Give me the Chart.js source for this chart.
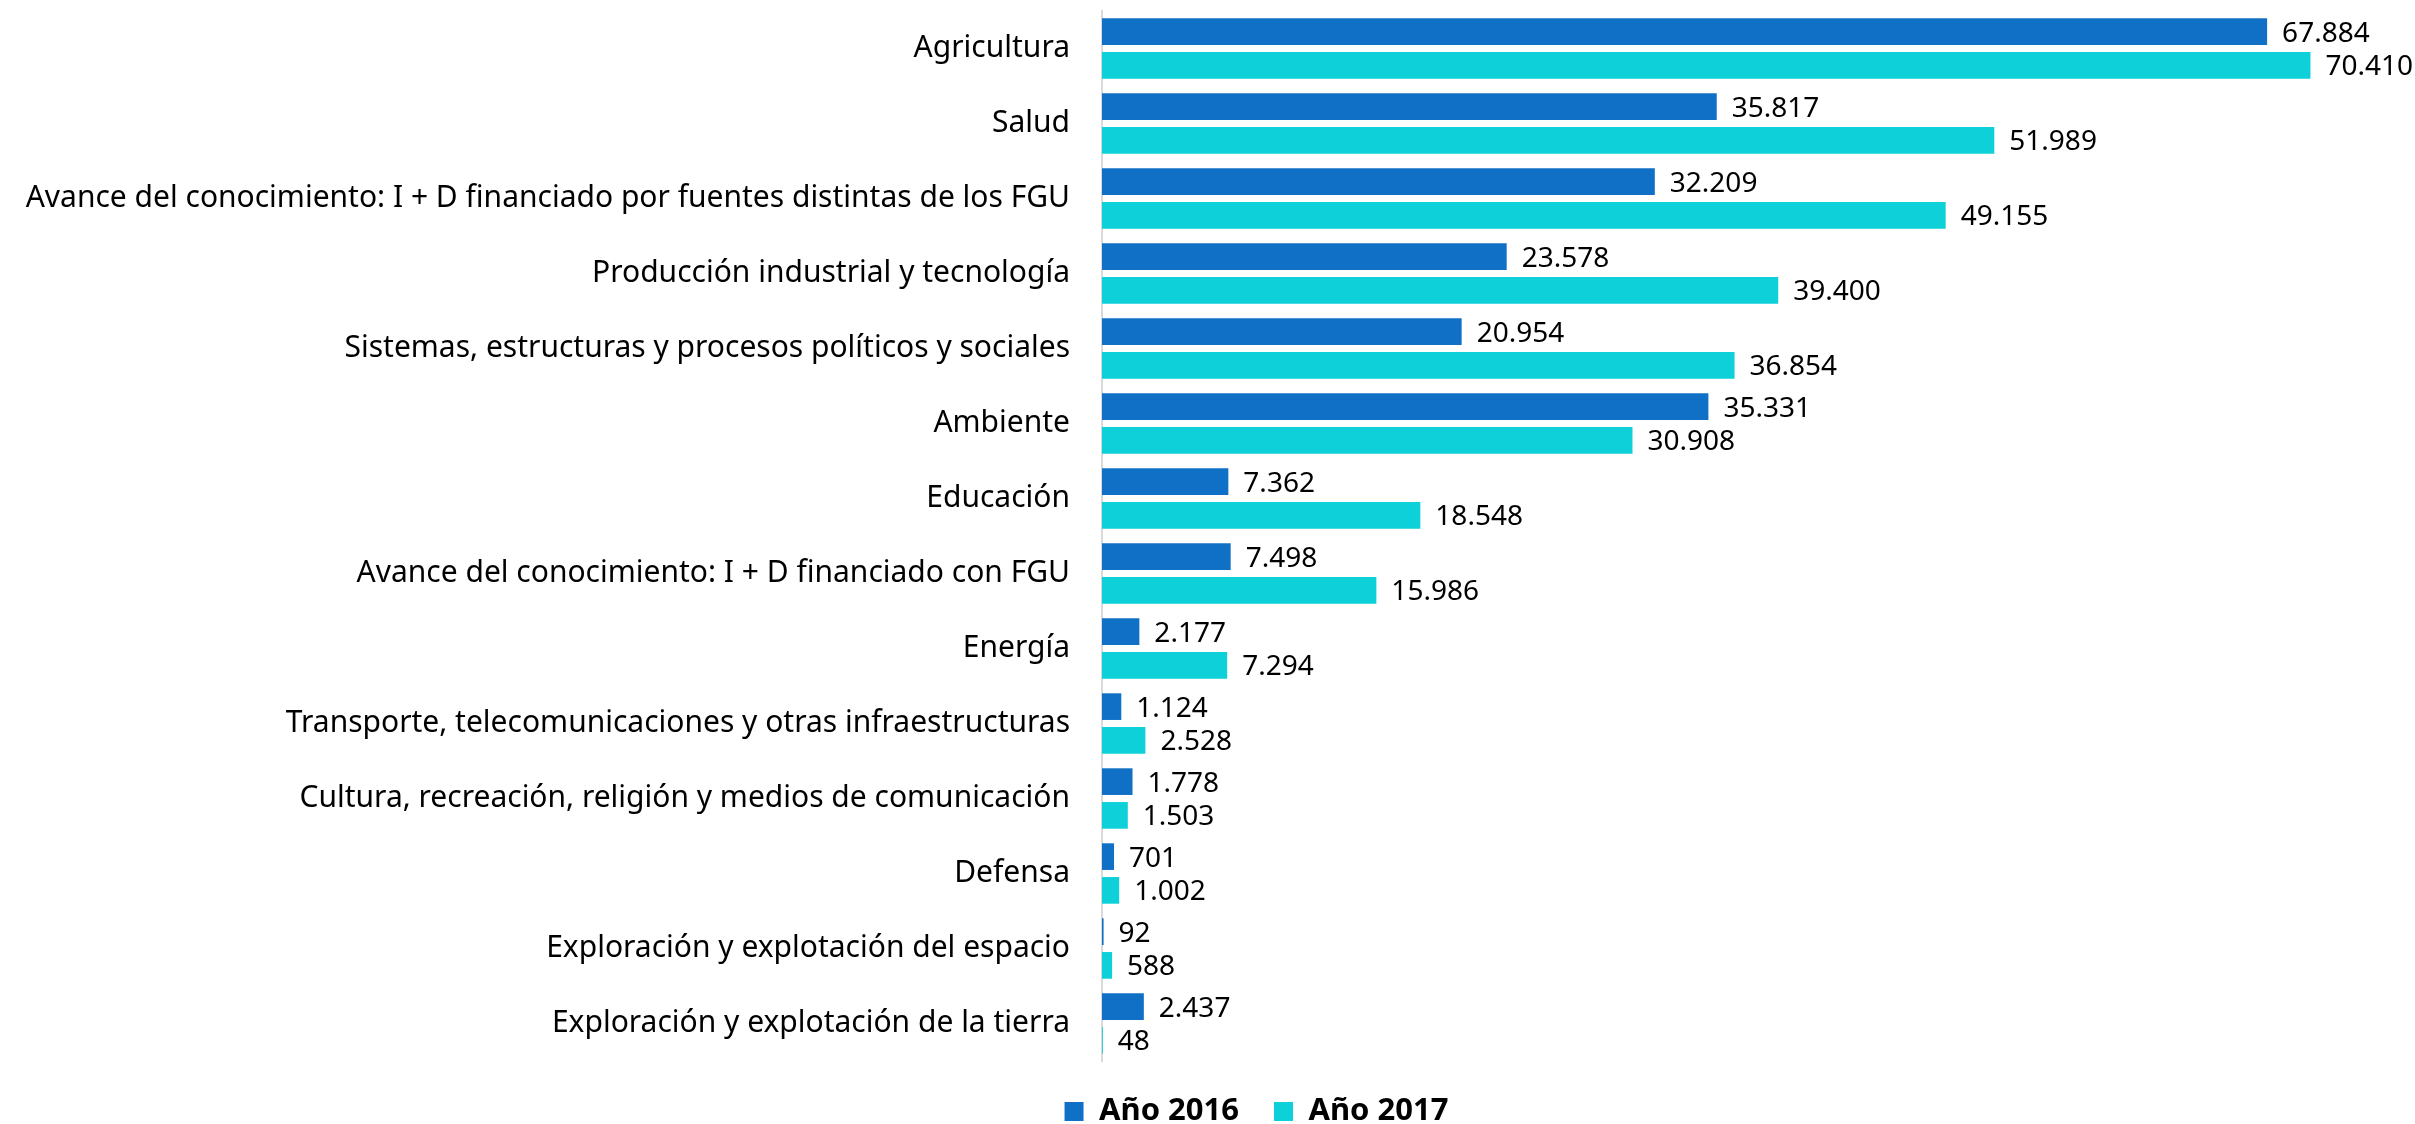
<!DOCTYPE html>
<html><head><meta charset="utf-8">
<script src="https://cdn.jsdelivr.net/npm/chart.js@4.4.1/dist/chart.umd.min.js"></script>
<style>html,body{margin:0;padding:0;background:#fff}#wrap{width:2415px;height:1124px}</style>
</head><body><div id="wrap"><canvas id="c" width="2415" height="1124"></canvas></div>
<script>
const categories = [
  "Agricultura",
  "Salud",
  "Avance del conocimiento: I + D financiado por fuentes distintas de los FGU",
  "Producción industrial y tecnología",
  "Sistemas, estructuras y procesos políticos y sociales",
  "Ambiente",
  "Educación",
  "Avance del conocimiento: I + D financiado con FGU",
  "Energía",
  "Transporte, telecomunicaciones y otras infraestructuras",
  "Cultura, recreación, religión y medios de comunicación",
  "Defensa",
  "Exploración y explotación del espacio",
  "Exploración y explotación de la tierra"
];
const values2016 = [67884, 35817, 32209, 23578, 20954, 35331, 7362, 7498, 2177, 1124, 1778, 701, 92, 2437];
const values2017 = [70410, 51989, 49155, 39400, 36854, 30908, 18548, 15986, 7294, 2528, 1503, 1002, 588, 48];
const seriesNames = ["Año 2016", "Año 2017"];

const FONT = "'Noto Sans', 'Open Sans', sans-serif";
function fmt(v){ return String(v).replace(/\B(?=(\d{3})+(?!\d))/g, "."); }

const labelPlugin = {
  id: 'valueLabels',
  afterDatasetsDraw(chart){
    const ctx = chart.ctx;
    ctx.save();
    ctx.font = "28px " + FONT;
    ctx.fillStyle = "#000";
    ctx.textAlign = "left";
    ctx.textBaseline = "middle";
    chart.data.datasets.forEach((ds, di) => {
      const meta = chart.getDatasetMeta(di);
      meta.data.forEach((bar, i) => {
        ctx.fillText(fmt(ds.data[i]), bar.x + 15, bar.y + 2);
      });
    });
    ctx.restore();
  }
};

new Chart(document.getElementById('c'), {
  type: 'bar',
  data: {
    labels: categories,
    datasets: [
      { label: seriesNames[0], data: values2016, backgroundColor: '#1070C6', borderWidth: 0, barPercentage: 0.79, categoryPercentage: 0.9 },
      { label: seriesNames[1], data: values2017, backgroundColor: '#0ED0D8', borderWidth: 0, barPercentage: 0.79, categoryPercentage: 0.9 }
    ]
  },
  options: {
    indexAxis: 'y',
    responsive: false,
    animation: false,
    layout: { padding: { top: 0, left: 0, right: -98, bottom: -13 } },
    scales: {
      x: { display: false, min: 0, max: 76500 },
      y: {
        grid: { display: true, color: 'rgba(0,0,0,0)', drawOnChartArea: false, drawTicks: true, tickLength: 39 },
        border: { display: true, color: '#D9D9D9', width: 2 },
        ticks: { color: '#000', font: { family: FONT, size: 30 }, padding: -7, autoSkip: false },
        afterFit(scale){ scale.width = 1102; }
      }
    },
    plugins: {
      tooltip: { enabled: false },
      legend: {
        position: 'bottom',
        labels: {
          color: '#000',
          font: { family: FONT, size: 31, weight: 'bold' },
          boxWidth: 19, boxHeight: 19, padding: 35
        }
      }
    }
  },
  plugins: [labelPlugin]
});
</script></body></html>
